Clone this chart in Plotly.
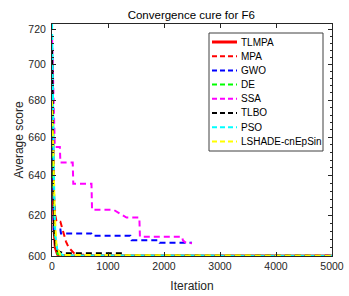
import math
import plotly.graph_objects as go

# ---- data ----
names = ["TLMPA", "MPA", "GWO", "DE", "SSA", "TLBO", "PSO", "LSHADE-cnEpSin"]
colors = ["#FF0000", "#FF0000", "#0000FF", "#00FF00", "#FF00FF", "#000000", "#00FFFF", "#FFFF00"]

tlmpa_x = [1, 10, 20, 40, 60, 100, 150, 300, 5000]
tlmpa_y = [700, 662, 632, 612, 604, 600.8, 600.2, 600.1, 600.05]

mpa_x = [1, 15, 30, 60, 80, 150, 200, 250, 300, 380, 420, 700, 720, 5000]
mpa_y = [705, 660, 633, 620, 616.7, 616.7, 612, 607, 604, 602, 600.6, 600.5, 600.1, 600.05]

gwo_x = [1, 10, 25, 30, 150, 160, 700, 720, 1400, 1420, 1900, 1920, 2500]
gwo_y = [705, 660, 625, 612.9, 612.9, 611, 611, 609.8, 609.8, 607.7, 607.7, 606.4, 606.4]

de_x = [1, 20, 50, 100, 200, 5000]
de_y = [690, 640, 610, 601, 600.2, 600.05]

ssa_x = [1, 20, 40, 50, 140, 150, 370, 380, 705, 715, 1100, 1330, 1560, 1570, 2320, 2340, 2380, 2500]
ssa_y = [715, 690, 665, 655, 655, 646.8, 646.8, 635.9, 635.9, 622.7, 622.7, 618.8, 618.8, 609.4, 609.4, 607.5, 606.6, 606.2]

tlbo_x = [1, 20, 40, 60, 100, 200, 1250, 1280, 5000]
tlbo_y = [708, 650, 612, 605.4, 602.5, 601.3, 601.3, 600.2, 600.15]

pso_x = [1, 10, 20, 40, 60, 100, 200, 5000]
pso_y = [723, 700, 670, 630, 610, 602, 600.3, 600.1]

lshade_x = [1, 20, 50, 80, 150, 5000]
lshade_y = [680, 650, 620, 605, 600.5, 600.05]

series_x = [tlmpa_x, mpa_x, gwo_x, de_x, ssa_x, tlbo_x, pso_x, lshade_x]
series_y = [tlmpa_y, mpa_y, gwo_y, de_y, ssa_y, tlbo_y, pso_y, lshade_y]

y_ticks = [600, 620, 640, 660, 680, 700, 720]
x_ticks = [0, 1000, 2000, 3000, 4000, 5000]

FONT = "Liberation Sans, Arial, sans-serif"
AX = "#262626"

fig = go.Figure()
for i, (n, c, xs, ys) in enumerate(zip(names, colors, series_x, series_y)):
    solid = i == 0
    fig.add_trace(go.Scatter(
        x=xs, y=ys, mode="lines", name=n,
        line=dict(color=c, width=3 if solid else 2, dash="solid" if solid else "6px,4px"),
        showlegend=False, hoverinfo="skip",
    ))

minor_vals = [v for v in range(600, 724, 4) if v % 20 != 0]

fig.update_layout(
    width=349, height=296,
    margin=dict(l=52, r=17, t=24, b=40, autoexpand=False),
    paper_bgcolor="white", plot_bgcolor="white",
    font=dict(family=FONT, size=10.5, color=AX),
    title=dict(text="Convergence cure for F6", x=0.548, xanchor="center", y=0.948, yanchor="middle",
               font=dict(family=FONT, size=11.5, color="#000000")),
    showlegend=False,
    xaxis=dict(range=[0, 5000], tickvals=x_ticks, ticks="inside", ticklen=4, tickcolor=AX,
               showline=True, linecolor=AX, linewidth=1, mirror="ticks", showgrid=False,
               zeroline=False, automargin=False,
               title=dict(text="Iteration", font=dict(size=12, family=FONT), standoff=11),
               tickfont=dict(size=10.5, family=FONT)),
    yaxis=dict(type="log", range=[math.log10(600), math.log10(723)], tickvals=y_ticks,
               ticktext=[str(v) for v in y_ticks], ticks="inside", ticklen=4, tickcolor=AX,
               showline=True, linecolor=AX, linewidth=1, mirror="ticks", showgrid=False,
               zeroline=False, automargin=False, ticklabelstandoff=3,
               title=dict(text="Average score", font=dict(size=12, family=FONT), standoff=2),
               tickfont=dict(size=10.5, family=FONT),
               minor=dict(tickvals=minor_vals, ticks="inside", ticklen=2, tickcolor=AX)),
)

# ---- legend drawn as box + sample lines + labels (paper coords) ----
pl, pr, pt, pb = 52, 332, 24, 256
def px(x): return (x - pl) / (pr - pl)
def py(y): return (pb - y) / (pb - pt)

fig.add_shape(type="rect", xref="paper", yref="paper",
              x0=px(209), x1=px(323), y0=py(151), y1=py(33),
              line=dict(color="#404040", width=1), fillcolor="white", layer="above")
for i, (n, c) in enumerate(zip(names, colors)):
    yy = 42 + i * 14.2
    solid = i == 0
    fig.add_shape(type="line", xref="paper", yref="paper",
                  x0=px(212), x1=px(237), y0=py(yy), y1=py(yy), layer="above",
                  line=dict(color=c, width=3 if solid else 2, dash="solid" if solid else "5px,3px"))
    fig.add_annotation(xref="paper", yref="paper", x=px(239), y=py(yy), text=n,
                       showarrow=False, xanchor="left", yanchor="middle",
                       font=dict(family=FONT, size=10, color="#000000"))

fig.write_html("out.html", config={"displayModeBar": False},
               post_script="document.body.style.margin='0px';document.body.style.overflow='hidden';")
